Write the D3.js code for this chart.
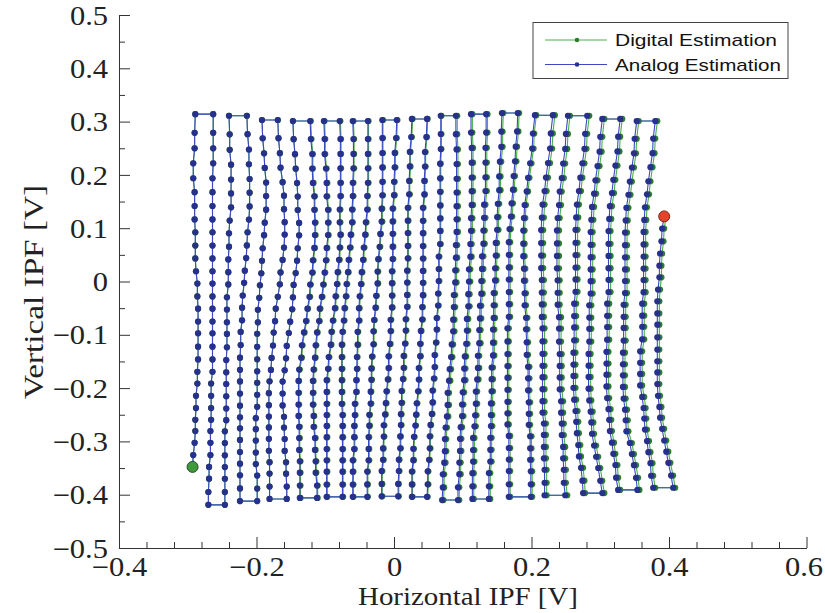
<!DOCTYPE html>
<html>
<head>
<meta charset="utf-8">
<script src="https://d3js.org/d3.v7.min.js"></script>
<style>
  body { margin: 0; background: #fff; }
  .tick text { font-family: 'Liberation Serif', 'Times New Roman', serif; font-size: 27px; fill: #222; }
  .axis path, .axis line { stroke: #333; }
</style>
</head>
<body>
<svg id="chart" width="825" height="613"></svg>
<script>
// row heights of one full column (col 1), top -> bottom, in V
const rowLevels = [0.314, 0.279, 0.250, 0.222, 0.194, 0.168, 0.142, 0.117, 0.093, 0.068, 0.044,
  0.020, -0.003, -0.027, -0.050, -0.074, -0.096, -0.121, -0.145, -0.168, -0.190, -0.213,
  -0.236, -0.258, -0.279, -0.301, -0.324, -0.346, -0.368, -0.393, -0.417];

// top / bottom vertical value of each scan column
const colTop = [0.314, 0.314, 0.311, 0.311, 0.303, 0.303, 0.301, 0.301, 0.301, 0.301, 0.301,
  0.301, 0.303, 0.303, 0.305, 0.305, 0.311, 0.311, 0.314, 0.314, 0.316, 0.316, 0.312, 0.312,
  0.311, 0.311, 0.305, 0.305, 0.301, 0.301, 0.310];
const colBottom = [-0.419, -0.419, -0.419, -0.412, -0.412, -0.408, -0.408, -0.406, -0.406,
  -0.404, -0.404, -0.404, -0.404, -0.403, -0.403, -0.404, -0.404, -0.410, -0.410, -0.408,
  -0.408, -0.404, -0.404, -0.401, -0.401, -0.397, -0.397, -0.391, -0.391, -0.387, -0.387];

// first row index of each column (last column stops early)
const rowStart = [0, 0, 0, 0, 0, 0, 0, 0, 0, 0, 0, 0, 0, 0, 0, 0, 0, 0, 0, 0, 0, 0, 0, 0, 0, 0, 0, 0, 0, 0, 7];

// analog estimate, horizontal value of every point (mV), each column top -> bottom
const scanX = [
  [-289, -290, -290, -292, -292, -290, -290, -290, -289, -289, -289, -288, -286, -286, -285, -285, -285, -285, -285, -286, -286, -288, -288, -289, -289, -290, -292, -293],
  [-263, -263, -263, -263, -264, -264, -264, -264, -264, -264, -264, -264, -264, -264, -264, -264, -264, -264, -264, -264, -266, -266, -266, -266, -267, -267, -267, -269, -269, -270, -270],
  [-240, -239, -239, -237, -237, -237, -237, -239, -240, -240, -241, -241, -241, -243, -243, -243, -243, -243, -244, -244, -244, -244, -244, -244, -246, -246, -246, -246, -246, -246, -246],
  [-214, -213, -211, -211, -210, -210, -210, -211, -213, -214, -215, -217, -218, -220, -221, -221, -223, -223, -224, -224, -224, -224, -224, -224, -224, -224, -224, -224, -224, -224, -224],
  [-192, -191, -189, -188, -186, -186, -186, -188, -189, -191, -192, -193, -195, -196, -198, -198, -199, -199, -199, -199, -199, -199, -199, -201, -201, -201, -201, -201, -199, -199, -199],
  [-169, -168, -166, -165, -162, -160, -160, -159, -159, -160, -162, -165, -166, -169, -172, -173, -175, -176, -178, -179, -181, -182, -182, -182, -182, -182, -182, -181, -181, -181, -181],
  [-147, -146, -144, -143, -141, -140, -140, -138, -138, -140, -141, -143, -146, -147, -148, -151, -153, -156, -157, -159, -162, -162, -162, -160, -160, -159, -159, -157, -157, -156, -156],
  [-122, -121, -119, -119, -118, -116, -116, -115, -115, -116, -118, -119, -122, -123, -126, -128, -131, -134, -135, -138, -139, -139, -139, -139, -138, -138, -138, -137, -137, -137, -137],
  [-102, -101, -101, -99, -98, -98, -96, -96, -96, -98, -99, -101, -103, -105, -108, -109, -112, -114, -115, -117, -118, -118, -118, -117, -117, -115, -115, -114, -114, -112, -112],
  [-79, -78, -78, -78, -78, -78, -79, -79, -78, -79, -80, -82, -83, -85, -86, -89, -91, -92, -95, -96, -98, -98, -98, -98, -98, -98, -98, -98, -98, -98, -98],
  [-60, -59, -59, -59, -60, -60, -61, -61, -63, -64, -66, -67, -69, -70, -72, -73, -75, -76, -76, -76, -76, -76, -76, -75, -75, -75, -75, -75, -75, -75, -75],
  [-38, -38, -38, -38, -38, -39, -39, -41, -42, -44, -45, -47, -48, -50, -51, -51, -53, -53, -54, -54, -55, -55, -57, -57, -58, -58, -58, -60, -60, -60, -60],
  [-17, -17, -17, -17, -17, -17, -18, -18, -20, -21, -23, -24, -24, -26, -27, -29, -30, -30, -32, -33, -33, -34, -34, -36, -36, -37, -37, -37, -39, -39, -39],
  [4, 3, 1, 1, 0, 0, -2, -2, -2, -2, -2, -3, -3, -3, -3, -5, -5, -6, -8, -8, -9, -11, -12, -13, -15, -15, -16, -16, -18, -18, -18],
  [26, 25, 23, 23, 22, 22, 20, 20, 20, 20, 20, 19, 19, 19, 19, 17, 17, 16, 14, 14, 13, 11, 11, 10, 10, 9, 9, 7, 7, 6, 6],
  [48, 47, 45, 45, 44, 44, 42, 42, 42, 42, 42, 42, 42, 42, 41, 41, 39, 38, 38, 36, 36, 35, 33, 32, 31, 29, 28, 28, 26, 26, 26],
  [68, 68, 68, 67, 67, 67, 67, 67, 67, 67, 65, 65, 65, 64, 64, 62, 62, 61, 59, 59, 58, 56, 56, 55, 53, 52, 52, 51, 49, 49, 48],
  [90, 90, 91, 91, 91, 91, 91, 91, 91, 90, 90, 89, 89, 87, 87, 86, 86, 84, 83, 81, 80, 78, 78, 77, 75, 74, 74, 73, 71, 71, 70],
  [112, 112, 113, 113, 113, 113, 113, 112, 112, 111, 111, 109, 109, 108, 108, 106, 106, 105, 103, 102, 102, 100, 99, 99, 97, 96, 96, 95, 95, 93, 93],
  [134, 134, 133, 133, 133, 133, 131, 131, 130, 130, 128, 128, 127, 127, 125, 125, 124, 124, 122, 122, 121, 119, 119, 118, 117, 115, 115, 115, 114, 114, 114],
  [157, 156, 156, 154, 153, 153, 151, 150, 150, 148, 148, 147, 147, 145, 145, 145, 144, 144, 144, 142, 142, 142, 141, 141, 141, 140, 140, 140, 138, 138, 138],
  [180, 179, 177, 176, 174, 173, 171, 170, 168, 167, 167, 167, 167, 167, 167, 167, 165, 165, 165, 165, 165, 165, 165, 165, 165, 167, 167, 167, 167, 167, 167],
  [205, 202, 201, 198, 195, 193, 190, 189, 188, 188, 188, 189, 189, 190, 190, 192, 192, 193, 193, 195, 195, 195, 196, 196, 196, 198, 198, 198, 199, 199, 199],
  [231, 228, 227, 224, 221, 219, 216, 215, 214, 214, 214, 214, 215, 215, 215, 215, 216, 216, 216, 216, 216, 216, 216, 216, 218, 218, 218, 218, 219, 219, 219],
  [253, 250, 249, 246, 244, 241, 240, 238, 237, 237, 237, 237, 238, 238, 238, 240, 240, 240, 241, 241, 241, 241, 243, 243, 244, 244, 246, 246, 247, 247, 249],
  [281, 278, 277, 274, 271, 269, 266, 265, 264, 264, 264, 264, 264, 264, 262, 262, 262, 262, 261, 261, 261, 261, 262, 264, 265, 266, 268, 269, 272, 274, 275],
  [303, 300, 299, 296, 293, 291, 288, 287, 286, 286, 286, 286, 286, 286, 284, 284, 284, 284, 283, 283, 283, 283, 284, 286, 287, 288, 291, 294, 297, 300, 303],
  [329, 326, 325, 322, 319, 317, 314, 313, 312, 312, 312, 312, 312, 312, 310, 310, 310, 310, 309, 309, 309, 309, 310, 312, 313, 314, 317, 319, 322, 323, 326],
  [353, 350, 349, 346, 343, 341, 338, 337, 336, 336, 336, 336, 336, 336, 334, 334, 334, 334, 333, 333, 333, 333, 334, 336, 337, 338, 343, 346, 349, 352, 354],
  [380, 377, 376, 373, 370, 368, 365, 364, 363, 363, 363, 363, 363, 363, 361, 361, 361, 361, 358, 358, 358, 358, 361, 363, 364, 365, 368, 370, 373, 374, 377],
  [393, 390, 389, 387, 386, 386, 384, 383, 383, 383, 383, 383, 383, 383, 383, 384, 386, 387, 390, 393, 396, 399, 403, 406]
];

// digital estimate sits a little to the right of the analog one (mV per column)
const digitalShift = [0, 0, 0, 0, 0, 0, 0, 1, 1, 1, 1, 1, 1, 1, 1, 1, 1, 2, 2, 2, 2, 2, 2, 3, 3, 3, 3, 3, 3, 3, 3];

const xTicks = [-0.4, -0.2, 0, 0.2, 0.4, 0.6];
const xMinor = [-0.36, -0.32, -0.28, -0.24, -0.16, -0.12, -0.08, -0.04, 0.04, 0.08, 0.12, 0.16,
  0.24, 0.28, 0.32, 0.36, 0.44, 0.48, 0.52, 0.56];
const yTicks = [-0.5, -0.4, -0.3, -0.2, -0.1, 0, 0.1, 0.2, 0.3, 0.4, 0.5];
const yMinor = [-0.45, -0.35, -0.25, -0.15, -0.05, 0.05, 0.15, 0.25, 0.35, 0.45];

const series = [
  { name: 'Digital Estimation', line: '#49b049', dot: '#2f7d32', shift: true },
  { name: 'Analog Estimation', line: '#3c48c4', dot: '#27308c', shift: false }
];

const conf = {
  left: 119,
  right: 806.5,
  top: 15,
  bottom: 548,
  dotR: 3.1,
  // the reference type is a little wider than Times
  stretch: 1.13
};

const svg = d3.select('#chart');
svg.append('rect').attr('width', 825).attr('height', 613).attr('fill', '#fff');

const x = d3.scaleLinear().domain([-0.4, 0.6]).range([conf.left, conf.right]);
const y = d3.scaleLinear().domain([-0.5, 0.5]).range([conf.bottom, conf.top]);

const fmt = d => (d === 0 ? '0' : d3.format('.1f')(d));

/**
 * Points of one column, listed in the order the scan visits them
 */
const columnPoints = function(j, useShift) {
  const lo = rowLevels[rowLevels.length - 1];
  const hi = rowLevels[0];
  const dx = useShift ? digitalShift[j] : 0;
  const pts = scanX[j].map((v, k) => {
    const t = (rowLevels[rowStart[j] + k] - lo) / (hi - lo);
    return { x: (v + dx) / 1000, y: colBottom[j] + t * (colTop[j] - colBottom[j]) };
  });
  // even columns run upwards, odd ones downwards
  return j % 2 === 0 ? pts.reverse() : pts;
};

const scanPath = function(useShift) {
  let all = [];
  scanX.forEach((col, j) => {
    all = all.concat(columnPoints(j, useShift));
  });
  return all;
};

// axes
const xAxis = svg
  .append('g')
  .attr('class', 'axis')
  .attr('transform', 'translate(0,' + conf.bottom + ')')
  .call(d3.axisBottom(x).tickValues(xTicks).tickFormat(fmt).tickSizeInner(-11).tickSizeOuter(0).tickPadding(9));
svg
  .append('g')
  .attr('class', 'axis')
  .attr('transform', 'translate(0,' + conf.bottom + ')')
  .call(d3.axisBottom(x).tickValues(xMinor).tickFormat('').tickSizeInner(-6).tickSizeOuter(0))
  .select('.domain')
  .remove();

const yAxis = svg
  .append('g')
  .attr('class', 'axis')
  .attr('transform', 'translate(' + conf.left + ',0)')
  .call(d3.axisLeft(y).tickValues(yTicks).tickFormat(fmt).tickSizeInner(-11).tickSizeOuter(0).tickPadding(11));
svg
  .append('g')
  .attr('class', 'axis')
  .attr('transform', 'translate(' + conf.left + ',0)')
  .call(d3.axisLeft(y).tickValues(yMinor).tickFormat('').tickSizeInner(-6).tickSizeOuter(0))
  .select('.domain')
  .remove();

xAxis.selectAll('.tick text').attr('dy', '0.71em');
yAxis.selectAll('.tick text').attr('dy', '0.34em');
// keep the last label inside the picture
xAxis
  .selectAll('.tick text')
  .filter(d => d === 0.6)
  .attr('dx', -3);

svg.selectAll('.tick text').each(function() {
  const w = this.getComputedTextLength();
  if (w > 0) {
    d3.select(this)
      .attr('textLength', w * conf.stretch)
      .attr('lengthAdjust', 'spacingAndGlyphs');
  }
});

// axis titles
svg
  .append('text')
  .attr('x', 468)
  .attr('y', 605)
  .attr('text-anchor', 'middle')
  .attr('font-family', 'Liberation Serif, serif')
  .attr('font-size', 26)
  .attr('fill', '#222')
  .attr('textLength', 220)
  .attr('lengthAdjust', 'spacingAndGlyphs')
  .text('Horizontal IPF [V]');

svg
  .append('text')
  .attr('transform', 'translate(43,292) rotate(-90)')
  .attr('text-anchor', 'middle')
  .attr('font-family', 'Liberation Serif, serif')
  .attr('font-size', 27)
  .attr('fill', '#222')
  .attr('textLength', 214)
  .attr('lengthAdjust', 'spacingAndGlyphs')
  .text('Vertical IPF [V]');

// scan traces
const lineFunction = d3
  .line()
  .x(d => x(d.x))
  .y(d => y(d.y));

const plot = svg.append('g').attr('class', 'traces');
series.forEach(s => {
  const pts = scanPath(s.shift);
  plot
    .append('path')
    .attr('d', lineFunction(pts))
    .attr('fill', 'none')
    .attr('stroke', s.line)
    .attr('stroke-width', 1.1);
  plot
    .append('g')
    .selectAll('circle')
    .data(pts)
    .enter()
    .append('circle')
    .attr('cx', d => x(d.x))
    .attr('cy', d => y(d.y))
    .attr('r', conf.dotR)
    .attr('fill', s.dot);
});

// start and end of the scan
const analog = scanPath(false);
const first = analog[0];
const last = analog[analog.length - 1];
plot
  .append('circle')
  .attr('cx', x(first.x))
  .attr('cy', y(first.y))
  .attr('r', 5.5)
  .attr('fill', '#3f9a3c')
  .attr('stroke', '#2a4a2a')
  .attr('stroke-width', 1);
plot
  .append('circle')
  .attr('cx', x(last.x))
  .attr('cy', y(last.y))
  .attr('r', 5.5)
  .attr('fill', '#e5432b')
  .attr('stroke', '#7a2616')
  .attr('stroke-width', 1);

// legend
const legend = svg.append('g').attr('class', 'legend');
legend
  .append('rect')
  .attr('x', 533)
  .attr('y', 22.5)
  .attr('width', 255)
  .attr('height', 56)
  .attr('fill', '#fff')
  .attr('stroke', '#444')
  .attr('stroke-width', 1);

series.forEach((s, i) => {
  const ly = 40 + i * 24.5;
  legend
    .append('line')
    .attr('x1', 545)
    .attr('x2', 607)
    .attr('y1', ly)
    .attr('y2', ly)
    .attr('stroke', s.line)
    .attr('stroke-width', 1);
  legend
    .append('circle')
    .attr('cx', 577)
    .attr('cy', ly)
    .attr('r', 2.3)
    .attr('fill', s.dot);
  legend
    .append('text')
    .attr('x', 615)
    .attr('y', ly + 6)
    .attr('font-family', 'Liberation Sans, Arial, sans-serif')
    .attr('font-size', 17)
    .attr('fill', '#111')
    .attr('textLength', i === 0 ? 162 : 166)
    .attr('lengthAdjust', 'spacingAndGlyphs')
    .text(s.name);
});
</script>
</body>
</html>
